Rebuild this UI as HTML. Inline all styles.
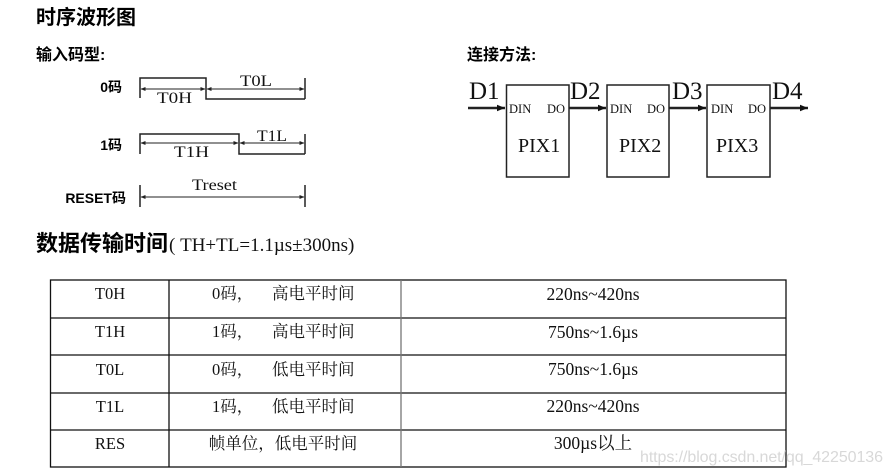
<!DOCTYPE html>
<html><head><meta charset="utf-8"><style>
html,body{margin:0;padding:0;background:#fff;}
svg{display:block;}
.cj{font-family:"Liberation Sans","Noto Sans CJK SC",sans-serif;font-weight:bold;fill:#000;}
.se{font-family:"Liberation Serif","Noto Serif CJK SC",serif;fill:#111;}
</style></head><body>
<svg width="892" height="474" viewBox="0 0 892 474" xmlns="http://www.w3.org/2000/svg">
<defs>
<marker id="a" viewBox="0 0 10 10" refX="10" refY="5" markerWidth="3.2" markerHeight="3.2" orient="auto"><path d="M0,1 L10,5 L0,9 z" fill="#111"/></marker>
<marker id="b" viewBox="0 0 10 10" refX="9" refY="5" markerWidth="6" markerHeight="5" orient="auto-start-reverse"><path d="M0,1 L10,5 L0,9 z" fill="#222"/></marker>
</defs>
<text class="cj" x="36" y="24" font-size="20">时序波形图</text>
<text class="cj" x="36" y="60" font-size="16">输入码型:</text>
<text class="cj" x="467" y="60" font-size="16">连接方法:</text>

<g class="cj" font-size="14" text-anchor="end">
<text x="122" y="92">0码</text>
<text x="122" y="150">1码</text>
<text x="126" y="203">RESET码</text>
</g>
<g stroke="#222" stroke-width="1.5" fill="none">
<polyline points="140,98 140,78 206,78 206,99 305,99"/>
<line x1="305" y1="78" x2="305" y2="99"/>
<polyline points="140,154 140,134 239,134 239,154 305,154"/>
<line x1="305" y1="134" x2="305" y2="154"/>
<line x1="140" y1="185" x2="140" y2="207"/>
<line x1="305" y1="185" x2="305" y2="207"/>
</g>
<g stroke="#222" stroke-width="1">
<line x1="141" y1="89" x2="205" y2="89" marker-start="url(#b)" marker-end="url(#b)"/>
<line x1="207" y1="89" x2="304" y2="89" marker-start="url(#b)" marker-end="url(#b)"/>
<line x1="141" y1="143" x2="238" y2="143" marker-start="url(#b)" marker-end="url(#b)"/>
<line x1="240" y1="143" x2="304" y2="143" marker-start="url(#b)" marker-end="url(#b)"/>
<line x1="141" y1="197" x2="304" y2="197" marker-start="url(#b)" marker-end="url(#b)"/>
</g>
<g class="se" font-size="16">
<text x="157" y="103" textLength="35" lengthAdjust="spacingAndGlyphs">T0H</text>
<text x="240" y="86" textLength="32" lengthAdjust="spacingAndGlyphs">T0L</text>
<text x="174" y="157" textLength="35" lengthAdjust="spacingAndGlyphs">T1H</text>
<text x="257" y="141" textLength="30" lengthAdjust="spacingAndGlyphs">T1L</text>
<text x="192" y="190" textLength="45" lengthAdjust="spacingAndGlyphs">Treset</text>
</g>

<g stroke="#222" stroke-width="1.5" fill="none">
<rect x="506.5" y="85" width="62.5" height="92"/>
<rect x="607" y="85" width="62" height="92"/>
<rect x="707" y="85" width="63" height="92"/>
</g>
<g stroke="#222" stroke-width="2.5">
<line x1="468" y1="108" x2="505" y2="108" marker-end="url(#a)"/>
<line x1="569" y1="108" x2="606" y2="108" marker-end="url(#a)"/>
<line x1="669" y1="108" x2="706" y2="108" marker-end="url(#a)"/>
<line x1="770" y1="108" x2="808" y2="108" marker-end="url(#a)"/>
</g>
<g class="se" font-size="25">
<text x="469" y="99">D1</text>
<text x="570" y="99">D2</text>
<text x="672" y="99">D3</text>
<text x="772" y="99">D4</text>
</g>
<g class="se" font-size="12.5">
<text x="509" y="113">DIN</text><text x="547" y="113">DO</text>
<text x="610" y="113">DIN</text><text x="647" y="113">DO</text>
<text x="711" y="113">DIN</text><text x="748" y="113">DO</text>
</g>
<g class="se" font-size="20">
<text x="518" y="152">PIX1</text>
<text x="619" y="152">PIX2</text>
<text x="716" y="152">PIX3</text>
</g>

<text x="36" y="251" font-size="22"><tspan class="cj">数据传输时间</tspan><tspan class="se" font-size="19" dx="1">( TH+TL=1.1µs±300ns)</tspan></text>

<g stroke="#111" stroke-width="1.3" fill="none">
<rect x="50.5" y="280" width="735.5" height="187"/>
<line x1="50" y1="318" x2="786" y2="318"/>
<line x1="50" y1="355" x2="786" y2="355"/>
<line x1="50" y1="393" x2="786" y2="393"/>
<line x1="50" y1="430" x2="786" y2="430"/>
<line x1="169" y1="280" x2="169" y2="467"/>
<line x1="401" y1="280" x2="401" y2="467" stroke="#777"/>
</g>
<g class="se" font-size="16.5">
<g text-anchor="middle">
<text x="110" y="299">T0H</text>
<text x="110" y="337">T1H</text>
<text x="110" y="375">T0L</text>
<text x="110" y="412">T1L</text>
<text x="110" y="449">RES</text>
<text x="593" y="300" font-size="17.5">220ns~420ns</text>
<text x="593" y="338" font-size="17.5">750ns~1.6µs</text>
<text x="593" y="375" font-size="17.5">750ns~1.6µs</text>
<text x="593" y="412" font-size="17.5">220ns~420ns</text>
<text x="593" y="449" font-size="17.5">300µs以上</text>
<text x="283" y="449">帧单位，低电平时间</text>
</g>
<text x="212" y="299">0码，</text><text x="272" y="299">高电平时间</text>
<text x="212" y="337">1码，</text><text x="272" y="337">高电平时间</text>
<text x="212" y="375">0码，</text><text x="272" y="375">低电平时间</text>
<text x="212" y="412">1码，</text><text x="272" y="412">低电平时间</text>
</g>
<text x="640" y="462" font-family="Liberation Sans,sans-serif" font-size="16" fill="#d8d8d8" textLength="243">https://blog.csdn.net/qq_42250136</text>
</svg>
</body></html>
